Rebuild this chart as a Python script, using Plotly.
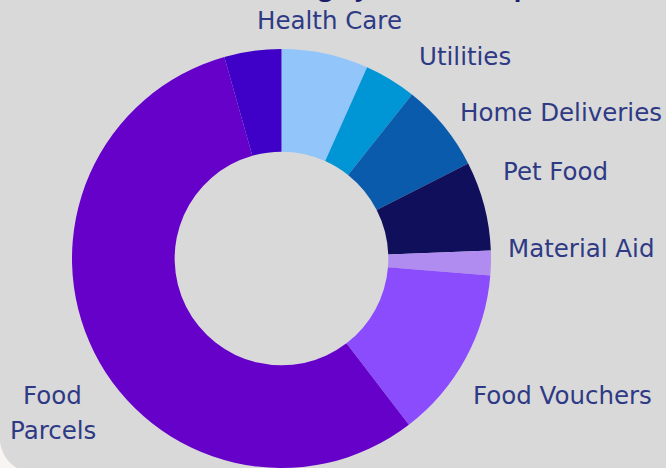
import plotly.graph_objects as go

categories = ["Health Care", "Utilities", "Home Deliveries", "Pet Food",
              "Material Aid", "Food Vouchers", "Food Parcels", "Other"]
shares = [6.7, 4.0, 6.8, 6.9, 1.9, 13.3, 56.0, 4.4]
colors = ["#92c5f9", "#0095d5", "#0a5bab", "#0f0f5c",
          "#b18cf0", "#8b4cfe", "#6501c9", "#3f00c7"]

W, H = 666, 468
MT = 49
PH = H - MT


def py(p):
    return (H - p) / PH


def px(p):
    return p / W


fig = go.Figure(go.Pie(
    labels=categories, values=shares, sort=False, direction="clockwise",
    rotation=0, hole=0.51, textinfo="none", hoverinfo="label+percent",
    marker=dict(colors=colors, line=dict(width=0)),
    domain=dict(x=[72 / W, 491 / W], y=[0, 1]), showlegend=False,
))

label_color = "#2f3a85"
font = dict(family="DejaVu Sans", size=24.5, color=label_color)
label_pos = [
    ("Health Care", 329.5, 20),
    ("Utilities", 465, 57),
    ("Home Deliveries", 561, 113),
    ("Pet Food", 555, 171),
    ("Material Aid", 581, 248),
    ("Food Vouchers", 562, 395),
    ("Food", 52, 395),
    ("Parcels", 53, 430),
]
annotations = [
    dict(text=t, x=px(x), y=py(y), xref="paper", yref="paper",
         xanchor="center", yanchor="middle", showarrow=False, font=font)
    for t, x, y in label_pos
]
annotations.append(dict(
    text="<b>Funding by Area of Help</b>", x=px(381), y=py(5),
    xref="paper", yref="paper", xanchor="center", yanchor="bottom",
    showarrow=False, font=dict(family="Open Sans", size=25, color="#1c1c6b"),
))

# rounded card corner at the bottom-left
corner = (f"M 0,{py(442)} Q {px(3)},{py(460)} {px(17)},{py(468)} "
          f"L 0,{py(468)} Z")

fig.update_layout(
    width=W, height=H, margin=dict(l=0, r=0, t=MT, b=0),
    paper_bgcolor="#d9d9d9", plot_bgcolor="#d9d9d9",
    annotations=annotations,
    shapes=[dict(type="path", path=corner, xref="paper", yref="paper",
                 fillcolor="#f8f4f2", line=dict(width=0))],
)

fig.write_html("out.html", config={"displayModeBar": False},
               post_script="document.body.style.margin='0';"
                           "document.body.style.background='#d9d9d9';")
